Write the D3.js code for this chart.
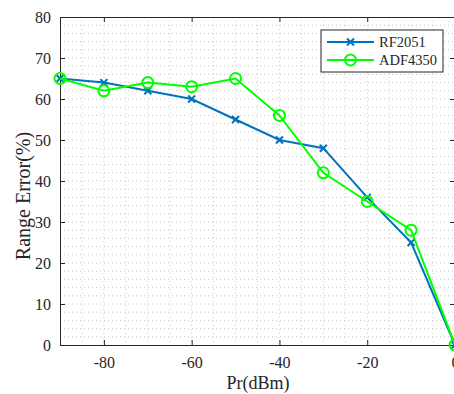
<!DOCTYPE html>
<html>
<head>
<meta charset="utf-8">
<script src="https://cdn.jsdelivr.net/npm/d3@7"></script>
<style>
  body { margin: 0; background: #fff; }
  svg, svg text { font-family: "Liberation Serif", "Times New Roman", serif; }
  svg { display: block; }
</style>
</head>
<body>
<div id="chart"></div>
<script>
// data
const pr = [-90, -80, -70, -60, -50, -40, -30, -20, -10, 0];
const rf2051 = [65, 64, 62, 60, 55, 50, 48, 36, 25, 0];
const adf4350 = [65, 62, 64, 63, 65, 56, 42, 35, 28, 0];
const xTicks = [-80, -60, -40, -20, 0];
const yTicks = [0, 10, 20, 30, 40, 50, 60, 70, 80];

const W = 454, H = 394;
const margin = {top: 17, right: -1, bottom: 49, left: 60};
const width = W - margin.left - margin.right,
      height = H - margin.top - margin.bottom;

const svg = d3.select("#chart").append("svg")
    .attr("width", W).attr("height", H);
const g = svg.append("g")
    .attr("transform", `translate(${margin.left},${margin.top})`);

const x = d3.scaleLinear().domain([-90, 0]).range([0, width]);
const y = d3.scaleLinear().domain([0, 80]).range([height, 0]);

// minor grid (dotted)
const xGrid = d3.range(-85, 0, 5);
const yGrid = d3.range(2, 80, 2);
g.append("g").selectAll("line").data(xGrid).join("line")
    .attr("x1", d => x(d)).attr("x2", d => x(d))
    .attr("y1", 0).attr("y2", height)
    .attr("stroke", "#c8c8c8").attr("stroke-width", 1)
    .attr("stroke-dasharray", "1,3");
g.append("g").selectAll("line").data(yGrid).join("line")
    .attr("y1", d => y(d)).attr("y2", d => y(d))
    .attr("x1", 0).attr("x2", width)
    .attr("stroke", "#c8c8c8").attr("stroke-width", 1)
    .attr("stroke-dasharray", "1,3");

// axes with inward ticks
const axisColor = "#262626";
g.append("g")
    .attr("transform", `translate(0,${height})`)
    .call(d3.axisBottom(x).tickValues(xTicks).tickSize(-5).tickPadding(12).tickFormat(d => String(d)))
    .call(a => a.selectAll("text").attr("font-size", 16).attr("fill", axisColor));
g.append("g")
    .call(d3.axisTop(x).tickValues(xTicks).tickSize(-5).tickFormat(""));
g.append("g")
    .call(d3.axisLeft(y).tickValues(yTicks).tickSize(-5).tickPadding(9).tickFormat(d => String(d)))
    .call(a => a.selectAll("text").attr("font-size", 16).attr("fill", axisColor));
g.append("g")
    .attr("transform", `translate(${width},0)`)
    .call(d3.axisRight(y).tickValues(yTicks).tickSize(-5).tickFormat(""));
g.selectAll(".domain, .tick line").attr("stroke", axisColor);
g.selectAll(".domain").attr("stroke-width", 1);
g.selectAll("g").attr("font-family", null);

// axis labels
svg.append("text")
    .attr("x", 258).attr("y", 389)
    .attr("text-anchor", "middle").attr("font-size", 18).attr("fill", axisColor)
    .text("Pr(dBm)");
svg.append("text")
    .attr("transform", `translate(30,196) rotate(-90)`)
    .attr("text-anchor", "middle").attr("font-size", 20).attr("fill", axisColor)
    .text("Range Error(%)");

const series = [
  {name: "RF2051", values: rf2051, color: "#0072BD", marker: "x"},
  {name: "ADF4350", values: adf4350, color: "#00FF00", marker: "o"}
];

const line = d3.line().x(d => x(d[0])).y(d => y(d[1]));

function drawMarker(sel, s) {
  if (s.marker === "x") {
    sel.append("path")
      .attr("d", "M-3.5,-3.5L3.5,3.5M-3.5,3.5L3.5,-3.5")
      .attr("stroke", s.color).attr("stroke-width", 2).attr("fill", "none");
  } else {
    sel.append("circle").attr("r", 5.5)
      .attr("stroke", s.color).attr("stroke-width", 2).attr("fill", "none");
  }
}

series.forEach(s => {
  const pts = pr.map((p, i) => [p, s.values[i]]);
  g.append("path").datum(pts)
    .attr("d", line)
    .attr("fill", "none").attr("stroke", s.color).attr("stroke-width", 2);
  g.append("g").selectAll("g").data(pts).join("g")
    .attr("transform", d => `translate(${x(d[0])},${y(d[1])})`)
    .each(function() { drawMarker(d3.select(this), s); });
});

// legend
const lg = svg.append("g").attr("transform", "translate(321,30)");
lg.append("rect").attr("width", 122).attr("height", 42)
    .attr("fill", "#fff").attr("stroke", axisColor).attr("stroke-width", 1);
series.forEach((s, i) => {
  const row = lg.append("g").attr("transform", `translate(0,${12 + i * 18})`);
  row.append("line").attr("x1", 6).attr("x2", 53).attr("y1", 0).attr("y2", 0)
    .attr("stroke", s.color).attr("stroke-width", 2);
  const m = row.append("g").attr("transform", "translate(29.5,0)");
  drawMarker(m, s);
  row.append("text").attr("x", 58).attr("y", 5)
    .attr("font-size", 14.5).attr("fill", axisColor).text(s.name);
});
</script>
</body>
</html>
